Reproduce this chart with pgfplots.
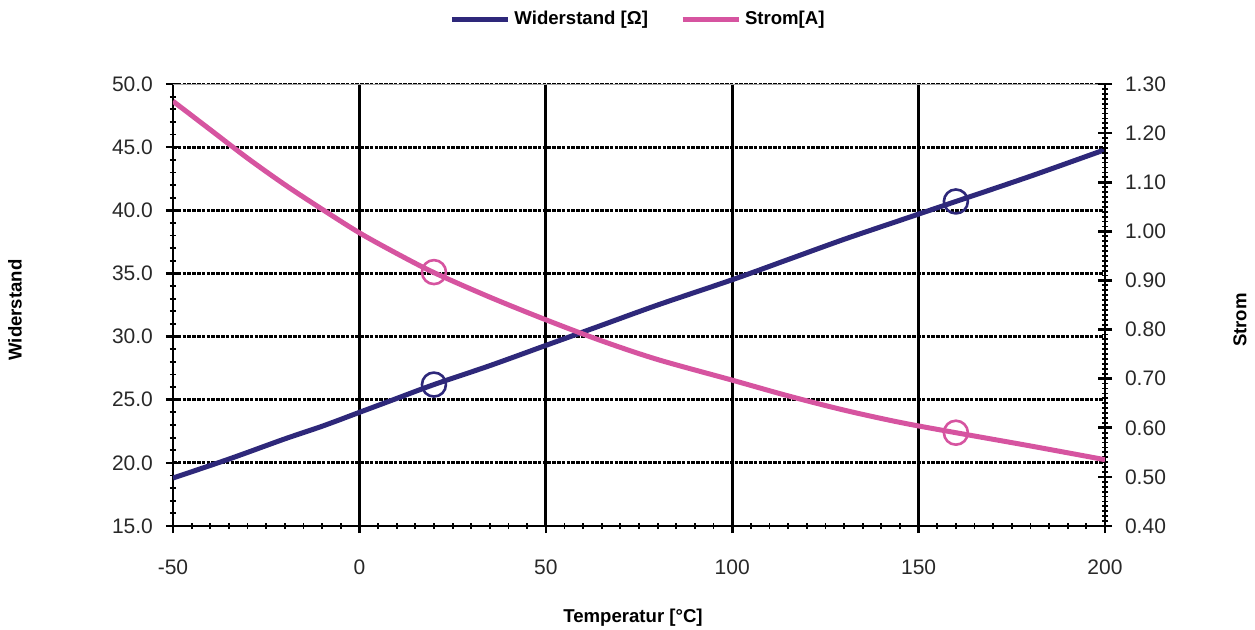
\documentclass[border=0pt]{standalone}
\usepackage{pgfplots}
\pgfplotsset{compat=1.18}
\usepackage{fontspec}
\setmainfont{Liberation Sans}
\definecolor{wblue}{RGB}{46,40,122}
\definecolor{spink}{RGB}{214,84,160}
\definecolor{tickgray}{RGB}{40,40,40}
\begin{document}
\begin{tikzpicture}
\path[use as bounding box] (-86.5pt,-51.5pt) rectangle (541pt,263pt);
\begin{axis}[
  scale only axis, width=466pt, height=221pt,
  xmin=-50, xmax=200, ymin=15, ymax=50,
  xtick={-50,0,50,100,150,200}, ytick={15,20,...,50},
  minor x tick num=9, minor y tick num=4,
  axis x line*=bottom, axis y line*=left,
  axis line style={-, black, line width=1.3pt},
  tick align=center, tickwidth=7pt, subtickwidth=3pt,
  major tick style={black, line width=1.3pt},
  minor tick style={black, line width=0.9pt},
  xmajorgrids, ymajorgrids,
  x grid style={black, line width=1.4pt},
  y grid style={black, line width=1.4pt, dash pattern=on 1.8pt off 0.6pt},
  /pgf/number format/assume math mode=true,
  ticklabel style={font=\fontsize{10.5}{12}\selectfont, text=tickgray},
  yticklabel style={/pgf/number format/fixed, /pgf/number format/fixed zerofill, /pgf/number format/precision=1, xshift=-3pt},
  xticklabel style={yshift=-10pt},
  legend style={at={(0.5,1)}, anchor=south, yshift=26pt, draw=none,
    font=\fontsize{9.3}{11}\selectfont\bfseries, legend columns=2,
    /tikz/every even column/.append style={column sep=14pt},
    inner sep=0pt},
  legend image code/.code={\draw[#1, line width=2.5pt] (0pt,0pt) -- (28pt,0pt);},
  legend cell align=left,
  every axis plot/.append style={line join=round},
]
\addplot[wblue, line width=2.5pt, no marks, smooth] coordinates {
(-50,18.8) (-35,20.3) (-20,21.9) (-10,22.9) (0,24.0) (10,25.1) (20,26.2) (35,27.7) (50,29.3) (65,30.9) (80,32.5) (100,34.5) (115,36.1) (130,37.7) (145,39.2) (160,40.7) (180,42.7) (200,44.8)};
\addlegendentry{Widerstand [\symbol{"03A9}]}
\addlegendimage{spink}
\addlegendentry{Strom[A]}
\addplot[wblue, line width=1.3pt, only marks, mark=o, mark size=6pt, forget plot] coordinates {(20,26.2) (160,40.7)};
\draw[gray!70, line width=1.4pt] (rel axis cs:0,1) -- (rel axis cs:1,1);
\end{axis}
\begin{axis}[
  scale only axis, width=466pt, height=221pt,
  xmin=-50, xmax=200, ymin=0.4, ymax=1.3,
  ytick={0.4,0.5,...,1.31},
  minor y tick num=9,
  axis x line=none, axis y line*=right,
  axis line style={-, black, line width=1.3pt},
  tick align=center, tickwidth=7pt, subtickwidth=3pt,
  major tick style={black, line width=1.3pt},
  minor tick style={black, line width=0.9pt},
  /pgf/number format/assume math mode=true,
  ticklabel style={font=\fontsize{10.5}{12}\selectfont, text=tickgray},
  yticklabel style={/pgf/number format/fixed, /pgf/number format/fixed zerofill, /pgf/number format/precision=2, xshift=3pt},
  every axis plot/.append style={line join=round},
]
\addplot[spink, line width=2.5pt, no marks, smooth] coordinates {
(-50,1.265) (-40,1.207) (-30,1.149) (-20,1.095) (-10,1.045) (0,0.997) (10,0.955) (20,0.916) (35,0.866) (50,0.820) (65,0.777) (80,0.739) (100,0.697) (115,0.665) (130,0.636) (145,0.611) (160,0.590) (180,0.563) (200,0.535)};
\addplot[spink, line width=1.3pt, only marks, mark=o, mark size=6pt] coordinates {(20,0.917) (160,0.590)};
\end{axis}
\node[rotate=90, font=\fontsize{9.3}{11}\selectfont\bfseries] at (-79pt,108pt) {Widerstand};
\node[rotate=90, font=\fontsize{9.3}{11}\selectfont\bfseries] at (533.5pt,103pt) {Strom};
\node[font=\fontsize{9.3}{11}\selectfont\bfseries] at (230pt,-46pt) {Temperatur [°C]};
\end{tikzpicture}
\end{document}
